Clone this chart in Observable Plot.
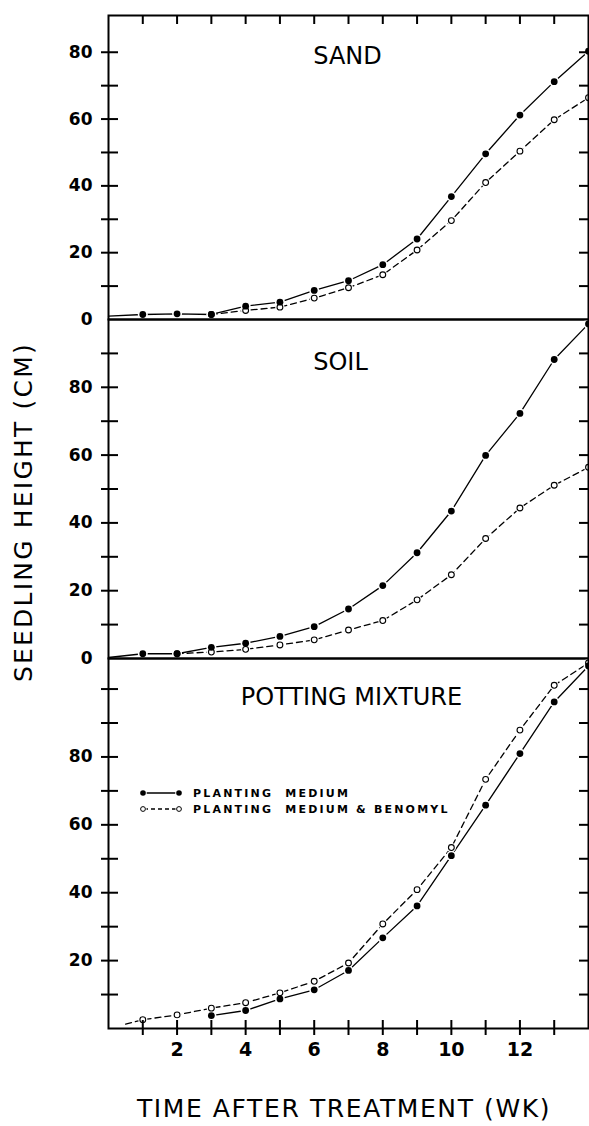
<!DOCTYPE html>
<html>
<head>
<meta charset="utf-8">
<script src="https://cdn.jsdelivr.net/npm/d3@7"></script>
<script src="https://cdn.jsdelivr.net/npm/@observablehq/plot@0.6"></script>
<style>
  body { margin: 0; background: #fff; }
  #wrap { position: relative; width: 589px; height: 1126px; background: #fff; overflow: hidden; font-family: "DejaVu Sans", sans-serif; color: #000; }
  .panel { position: absolute; left: 0; }
  g[aria-label="ylab"] text { letter-spacing: 2px; }
  g[aria-label="xlab"] text { letter-spacing: 1px; }
  g[aria-label="panel-title"] text { letter-spacing: 2px; }
  .axtitle { position: absolute; font-family: "DejaVu Sans", sans-serif; font-size: 25px; white-space: nowrap; }
  #legend text { font-family: "DejaVu Sans", sans-serif; font-weight: bold; font-size: 11px; letter-spacing: 2.2px; white-space: pre; }
</style>
</head>
<body>
<div id="wrap"></div>
<script>
// ---- data ----
const weeks = [1, 2, 3, 4, 5, 6, 7, 8, 9, 10, 11, 12, 13, 14];
const seriesNames = ["PLANTING  MEDIUM", "PLANTING  MEDIUM & BENOMYL"];
const panelNames = ["SAND", "SOIL", "POTTING MIXTURE"];

const sandMedium     = [1.5, 1.7, 1.5, 4.0, 5.2, 8.7, 11.6, 16.4, 24.1, 36.8, 49.6, 61.2, 71.2, 80.3];
const sandBenomyl    = [null, null, 1.5, 2.7, 3.7, 6.4, 9.5, 13.4, 20.8, 29.6, 41.0, 50.4, 59.8, 66.4];
const soilMedium     = [1.4, 1.4, 3.3, 4.5, 6.5, 9.4, 14.6, 21.5, 31.2, 43.5, 59.9, 72.3, 88.2, 98.7];
const soilBenomyl    = [null, 1.4, 1.9, 2.7, 4.0, 5.5, 8.4, 11.2, 17.3, 24.7, 35.4, 44.4, 51.1, 56.4];
const pottingMedium  = [null, null, 3.8, 5.3, 8.7, 11.4, 17.1, 26.7, 36.1, 50.9, 65.8, 81.0, 96.2, 106.8];
const pottingBenomyl = [2.6, 4.0, 6.0, 7.6, 10.5, 13.9, 19.3, 30.8, 40.9, 53.3, 73.4, 87.9, 101.1, 107.7];

// where each curve begins at the left (line only, no marker)
const startWeek    = [0, 0, 0.5];
const startMedium  = [1.0, 0.3, null];
const startBenomyl = [null, null, 1.3];

const yMax = [91, 100, 109];
const yLabelTicks = [[0, 20, 40, 60, 80], [0, 20, 40, 60, 80], [20, 40, 60, 80]];
const yMinorTicks = [[10, 20, 30, 40, 50, 60, 70, 80], [10, 20, 30, 40, 50, 60, 70, 80, 90], [10, 20, 30, 40, 50, 60, 70, 80, 90, 100]];
const xTicks = [1, 2, 3, 4, 5, 6, 7, 8, 9, 10, 11, 12, 13];
const xLabelTicks = [2, 4, 6, 8, 10, 12];

const mediumSets = [sandMedium, soilMedium, pottingMedium];
const benomylSets = [sandBenomyl, soilBenomyl, pottingBenomyl];

// ---- layout ----
const W = 589, ML = 108, MR = 1;
const plotW = W - ML - MR;
const layout = [
  {top: 0,   mt: 15, mb: 11, h: 330, titleDy: 31, titleDx: -1, topTicks: true,  bottomAxis: false},
  {top: 309, mt: 10, mb: 11, h: 360, titleDy: 33, titleDx: -8, topTicks: false, bottomAxis: false},
  {top: 648, mt: 10, mb: 50, h: 430, titleDy: 29, titleDx: 3,  topTicks: false, bottomAxis: true}
];

const wrap = document.getElementById("wrap");

function rowsOf(arr) {
  return weeks.map((w, j) => ({week: w, value: arr[j]})).filter(d => d.value != null);
}

layout.forEach((L, i) => {
  const plotH = L.h - L.mt - L.mb;
  const med = rowsOf(mediumSets[i]);
  const ben = rowsOf(benomylSets[i]);
  const medLine = (startMedium[i] != null ? [{week: startWeek[i], value: startMedium[i]}] : []).concat(med);
  const benLine = (startBenomyl[i] != null ? [{week: startWeek[i], value: startBenomyl[i]}] : []).concat(ben);

  const marks = [
    Plot.line(benLine, {x: "week", y: "value", stroke: "black", strokeWidth: 1.3, strokeDasharray: "6,4"}),
    Plot.line(medLine, {x: "week", y: "value", stroke: "black", strokeWidth: 1.3}),
    Plot.dot(med, {x: "week", y: "value", r: 5, fill: "white"}),
    Plot.dot(ben, {x: "week", y: "value", r: 4.6, fill: "white"}),
    Plot.dot(ben, {x: "week", y: "value", r: 2.9, fill: "white", stroke: "black", strokeWidth: 1.1}),
    Plot.dot(med, {x: "week", y: "value", r: 3.4, fill: "black"}),
    // y ticks: left (crossing), right (inward)
    Plot.tickY(yMinorTicks[i], {y: d => d, stroke: "black", strokeWidth: 2, insetLeft: -7, insetRight: plotW - 10}),
    Plot.tickY(yMinorTicks[i], {y: d => d, stroke: "black", strokeWidth: 2, insetLeft: plotW - 9, insetRight: 0}),
    Plot.text(yLabelTicks[i], {y: d => d, text: d => String(d), frameAnchor: "left", dx: -16, textAnchor: "end", fontSize: 17, fontWeight: "bold", ariaLabel: "ylab"}),
    Plot.text([panelNames[i]], {text: d => d, frameAnchor: "top", dy: L.titleDy, dx: L.titleDx, fontSize: 24, ariaLabel: "panel-title"}),
    Plot.frame({stroke: "black", strokeWidth: 2})
  ];
  if (L.topTicks) {
    marks.push(Plot.tickX(xTicks, {x: d => d, stroke: "black", strokeWidth: 2, insetTop: 0, insetBottom: plotH - 9}));
  }
  if (L.bottomAxis) {
    marks.push(Plot.tickX(xTicks, {x: d => d, stroke: "black", strokeWidth: 2, insetTop: plotH - 8, insetBottom: -7}));
    marks.push(Plot.text(xLabelTicks, {x: d => d, text: d => String(d), frameAnchor: "bottom", dy: 27, fontSize: 19, fontWeight: "bold", ariaLabel: "xlab"}));
  }

  const chart = Plot.plot({
    width: W,
    height: L.h,
    marginLeft: ML,
    marginRight: MR,
    marginTop: L.mt,
    marginBottom: L.mb,
    x: {domain: [0, 14], axis: null},
    y: {domain: [0, yMax[i]], axis: null},
    style: {fontFamily: "DejaVu Sans, sans-serif", background: "transparent", overflow: "visible", color: "black"},
    marks
  });
  chart.classList.add("panel");
  chart.style.top = L.top + "px";
  wrap.appendChild(chart);
});

// ---- legend (inside the potting mixture panel) ----
const leg = d3.select(wrap).append("svg")
  .attr("id", "legend")
  .attr("width", 330).attr("height", 40)
  .style("position", "absolute").style("left", "135px").style("top", "782px");
const rowsY = [11, 27];
seriesNames.forEach((name, k) => {
  const y = rowsY[k];
  leg.append("line").attr("x1", 9).attr("x2", 44).attr("y1", y).attr("y2", y)
    .attr("stroke", "black").attr("stroke-width", 1.3)
    .attr("stroke-dasharray", k === 0 ? null : "4,3");
  [8, 44].forEach(cx => {
    leg.append("circle").attr("cx", cx).attr("cy", y).attr("r", k === 0 ? 3.8 : 3.6).attr("fill", "white");
    leg.append("circle").attr("cx", cx).attr("cy", y).attr("r", k === 0 ? 2.8 : 2.4)
      .attr("fill", k === 0 ? "black" : "white").attr("stroke", "black").attr("stroke-width", k === 0 ? 0 : 1);
  });
  leg.append("text").attr("x", 58).attr("y", y).attr("dy", "0.36em").text(name);
});

// ---- axis titles ----
const yt = document.createElement("div");
yt.className = "axtitle";
yt.textContent = "SEEDLING HEIGHT (CM)";
yt.style.letterSpacing = "2.2px";
yt.style.left = "23px";
yt.style.top = "512px";
yt.style.transform = "translate(-50%, -50%) rotate(-90deg)";
wrap.appendChild(yt);

const xt = document.createElement("div");
xt.className = "axtitle";
xt.textContent = "TIME AFTER TREATMENT (WK)";
xt.style.letterSpacing = "1.6px";
xt.style.left = "344px";
xt.style.top = "1108px";
xt.style.transform = "translate(-50%, -50%)";
wrap.appendChild(xt);
</script>
</body>
</html>
